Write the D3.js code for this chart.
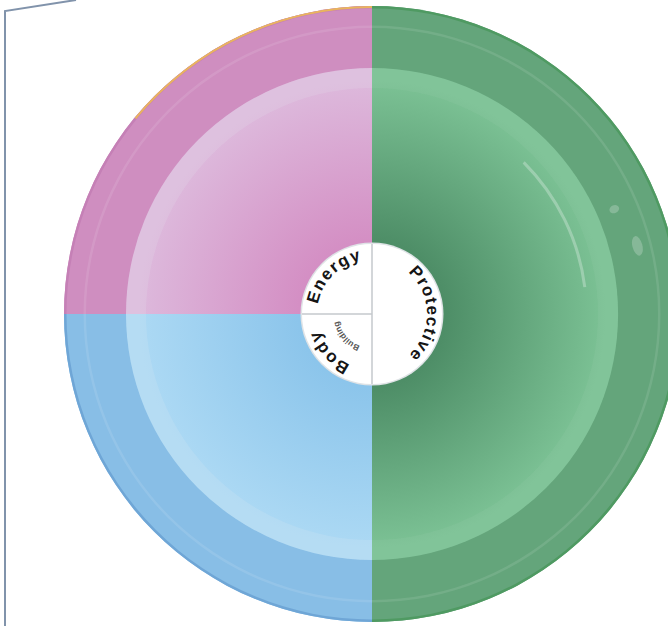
<!DOCTYPE html>
<html>
<head>
<meta charset="utf-8">
<script src="https://cdn.jsdelivr.net/npm/d3@7"></script>
<style>
  body { margin: 0; background: #fff; }
  svg { display: block; }
</style>
</head>
<body>
<div id="chart"></div>
<script>
// food groups on the plate, clockwise from 12 o'clock
var groups = ['Protective', 'Body Building', 'Energy'];
var shares = [50, 25, 25];
var labelMain = ['Protective', 'Body', 'Energy'];
var labelSub = ['', 'Building', ''];
var rimColors = ['#64a57b', '#88bee6', '#cf8ec0'];
var bowlInner = ['#4e8e67', '#8cc5eb', '#d48fc4'];
var bowlOuter = ['#7cc295', '#acd9f4', '#ddb9dc'];
var edgeColors = ['#4f9a62', '#6fa6d6', '#c580b6'];

var w = 668, h = 626;
var cx = 372, cy = 314;
var rPlate = 308, rBowl = 246, rHub = 70;

var svg = d3.select('#chart').append('svg')
  .attr('width', w)
  .attr('height', h);

var defs = svg.append('defs');

// left frame line
svg.append('path')
  .attr('d', 'M5,626 L5,11 L76,0')
  .attr('fill', 'none')
  .attr('stroke', '#8193ab')
  .attr('stroke-width', 2);

var pie = d3.pie().sort(null).value(function (d) {return d;});
var slices = pie(shares);

// gradients live in the plate's own (translated) coordinates
groups.forEach(function (g, i) {
  var grad = defs.append('radialGradient')
    .attr('id', 'bowl' + i)
    .attr('gradientUnits', 'userSpaceOnUse')
    .attr('cx', 0).attr('cy', 0).attr('r', rBowl);
  grad.append('stop').attr('offset', '0.3').attr('stop-color', bowlInner[i]);
  grad.append('stop').attr('offset', '0.95').attr('stop-color', bowlOuter[i]);
});

var plate = svg.append('g').attr('transform', 'translate(' + cx + ',' + cy + ')');

var rimArc = d3.arc().innerRadius(0).outerRadius(rPlate);
var bowlArc = d3.arc().innerRadius(0).outerRadius(rBowl);
var lipArc = d3.arc().innerRadius(rBowl - 20).outerRadius(rBowl);
var ringArc = d3.arc().innerRadius(286).outerRadius(288.5);

plate.selectAll('path.rim')
  .data(slices)
  .enter()
  .append('path')
  .attr('class', 'rim')
  .attr('d', rimArc)
  .attr('fill', function (d, i) {return rimColors[i];});

// thin outer edge
plate.selectAll('path.edge')
  .data(slices)
  .enter()
  .append('path')
  .attr('class', 'edge')
  .attr('d', d3.arc().innerRadius(rPlate - 2.5).outerRadius(rPlate))
  .attr('fill', function (d, i) {return edgeColors[i];});

// faint yellow lip on the top of the energy rim
plate.append('path')
  .attr('d', d3.arc().innerRadius(rPlate - 2).outerRadius(rPlate)({startAngle: 1.72 * Math.PI, endAngle: 2 * Math.PI}))
  .attr('fill', '#e9b45e');

plate.selectAll('path.ring')
  .data(slices)
  .enter()
  .append('path')
  .attr('class', 'ring')
  .attr('d', ringArc)
  .attr('fill', '#ffffff')
  .attr('opacity', 0.1);

plate.selectAll('path.bowl')
  .data(slices)
  .enter()
  .append('path')
  .attr('class', 'bowl')
  .attr('d', bowlArc)
  .attr('fill', function (d, i) {return 'url(#bowl' + i + ')';});

plate.selectAll('path.lip')
  .data(slices)
  .enter()
  .append('path')
  .attr('class', 'lip')
  .attr('d', lipArc)
  .attr('fill', '#e8eef2')
  .attr('opacity', function (d, i) {return i === 0 ? 0.05 : 0.16;});

// gloss highlights on the green side
plate.append('path')
  .attr('d', d3.arc().innerRadius(213).outerRadius(216)({startAngle: 0.25 * Math.PI, endAngle: 0.46 * Math.PI}))
  .attr('fill', '#ffffff')
  .attr('opacity', 0.28);
[[0.37, 264, 5, 4], [0.42, 274, 5, 10]].forEach(function (s) {
  var a = s[0] * Math.PI;
  var ex = s[1] * Math.sin(a), ey = -s[1] * Math.cos(a);
  plate.append('ellipse')
    .attr('cx', ex)
    .attr('cy', ey)
    .attr('rx', s[2]).attr('ry', s[3])
    .attr('transform', 'rotate(' + (s[0] * 180 - 90) + ',' + ex + ',' + ey + ')')
    .attr('fill', '#ffffff')
    .attr('opacity', 0.22);
});

// centre hub
plate.append('circle')
  .attr('r', rHub + 1.5)
  .attr('fill', '#dfe3e6');
plate.append('circle')
  .attr('r', rHub)
  .attr('fill', '#ffffff');

plate.selectAll('line.div')
  .data(slices)
  .enter()
  .append('line')
  .attr('class', 'div')
  .attr('x1', 0).attr('y1', 0)
  .attr('x2', function (d) {return rHub * Math.sin(d.startAngle);})
  .attr('y2', function (d) {return -rHub * Math.cos(d.startAngle);})
  .attr('stroke', '#c4c8cc')
  .attr('stroke-width', 1.5);

function arcPath(r, a0, a1) {
  var large = (a1 - a0) > Math.PI ? 1 : 0;
  return 'M' + r * Math.sin(a0) + ',' + -r * Math.cos(a0) +
    ' A' + r + ',' + r + ' 0 ' + large + ' 1 ' + r * Math.sin(a1) + ',' + -r * Math.cos(a1);
}

slices.forEach(function (d, i) {
  defs.append('path')
    .attr('id', 'lab' + i)
    .attr('d', arcPath(55, d.startAngle, d.endAngle));
  defs.append('path')
    .attr('id', 'sub' + i)
    .attr('d', arcPath(34, d.startAngle, d.endAngle));
});

plate.selectAll('text.main')
  .data(slices)
  .enter()
  .append('text')
  .attr('class', 'main')
  .style('font-family', 'Liberation Sans, Arial, sans-serif')
  .style('font-weight', 'bold')
  .style('font-size', '17px')
  .style('letter-spacing', function (d, i) {return i === 0 ? '1.2px' : '1.5px';})
  .attr('fill', '#151515')
  .append('textPath')
  .attr('href', function (d, i) {return '#lab' + i;})
  .attr('startOffset', function (d, i) {return i === 1 ? '54%' : '50%';})
  .attr('text-anchor', 'middle')
  .text(function (d, i) {return labelMain[i];});

plate.selectAll('text.sub')
  .data(slices.filter(function (d, i) {return labelSub[i] !== '';}))
  .enter()
  .append('text')
  .attr('class', 'sub')
  .style('font-family', 'Liberation Sans, Arial, sans-serif')
  .style('font-weight', 'bold')
  .style('font-size', '8.5px')
  .attr('fill', '#555')
  .append('textPath')
  .attr('href', function (d) {return '#sub' + d.index;})
  .attr('startOffset', '55%')
  .attr('text-anchor', 'middle')
  .text(function (d) {return labelSub[d.index];});
</script>
</body>
</html>
